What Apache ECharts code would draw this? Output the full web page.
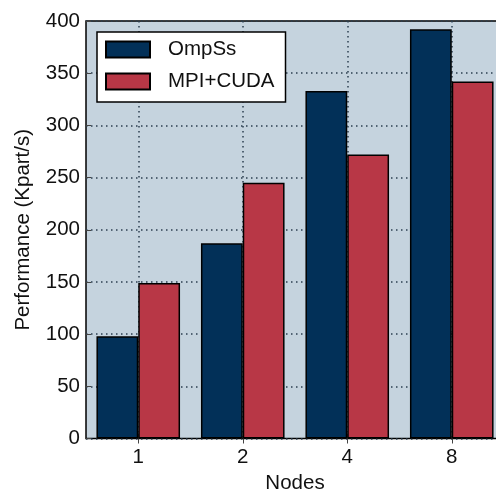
<!DOCTYPE html>
<html><head><meta charset="utf-8">
<script src="https://cdn.jsdelivr.net/npm/echarts@6/dist/echarts.min.js"></script>
<style>html,body{margin:0;padding:0;background:#fff}#c{width:496px;height:494px}</style>
</head><body><div id="c"></div>
<script>
var categories = ['1', '2', '4', '8'];
var ompss = [98, 187, 333, 392];
var mpicuda = [149, 245, 272, 342];
var yTicks = [0, 50, 100, 150, 200, 250, 300, 350, 400];

var chart = echarts.init(document.getElementById('c'), null, {renderer: 'canvas'});
var font = 'Liberation Sans, Arial, sans-serif';
var fs = 20.5;
var grid = {left: 86, width: 418, top: 21, height: 417.5, show: true, backgroundColor: '#c5d3de', borderColor: '#000', borderWidth: 1.5, containLabel: false, outerBoundsMode: 'none'};
var dotted = {color: '#2b3f50', width: 1.5, type: [1.5, 3.5]};
chart.setOption({
  animation: false,
  grid: grid,
  legend: {
    left: 97, top: 32, orient: 'vertical',
    backgroundColor: '#fff', borderColor: '#000', borderWidth: 1.5, borderRadius: 0,
    padding: [7, 11, 10, 8], itemWidth: 44, itemHeight: 16, itemGap: 11, icon: 'rect',
    textStyle: {fontFamily: font, fontSize: fs, color: '#111', lineHeight: 16, padding: [0, 0, 0, 13]},
    data: ['OmpSs', 'MPI+CUDA']
  },
  xAxis: [{
    type: 'category', data: categories, position: 'bottom',
    axisLine: {show: false}, axisTick: {show: true, alignWithLabel: true, inside: true, length: 5, lineStyle: {color: '#444'}},
    axisLabel: {fontFamily: font, fontSize: fs, color: '#111', margin: 8},
    splitLine: {show: true, alignWithLabel: true, lineStyle: dotted},
    name: 'Nodes', nameLocation: 'middle', nameGap: 34,
    nameTextStyle: {fontFamily: font, fontSize: fs, color: '#111'}
  }, {
    type: 'category', data: categories, position: 'top',
    axisLine: {show: false}, axisTick: {show: true, alignWithLabel: true, inside: true, length: 5, lineStyle: {color: '#444'}},
    axisLabel: {show: false}, splitLine: {show: false}
  }],
  yAxis: [{
    type: 'value', min: 0, max: 400, interval: 50, position: 'left',
    axisLine: {show: false}, axisTick: {show: true, inside: true, length: 5, lineStyle: {color: '#444'}},
    axisLabel: {fontFamily: font, fontSize: fs, color: '#111', margin: 6,
      formatter: function (v) { return yTicks.indexOf(v) >= 0 ? String(v) : ''; }},
    splitLine: {show: true, lineStyle: dotted},
    name: 'Performance (Kpart/s)', nameLocation: 'middle', nameGap: 52,
    nameTextStyle: {fontFamily: font, fontSize: fs, color: '#111'}
  }, {
    type: 'value', min: 0, max: 400, interval: 50, position: 'right',
    axisLine: {show: false}, axisTick: {show: true, inside: true, length: 5, lineStyle: {color: '#444'}},
    axisLabel: {show: false}, splitLine: {show: false}
  }],
  series: [{
    name: 'OmpSs', type: 'bar', data: ompss, barGap: '0%', barCategoryGap: '20%',
    itemStyle: {color: '#023058', borderColor: '#000', borderWidth: 1.5}
  }, {
    name: 'MPI+CUDA', type: 'bar', data: mpicuda, barGap: '0%', barCategoryGap: '20%',
    itemStyle: {color: '#b83746', borderColor: '#000', borderWidth: 1.5}
  }]
});
</script></body></html>
